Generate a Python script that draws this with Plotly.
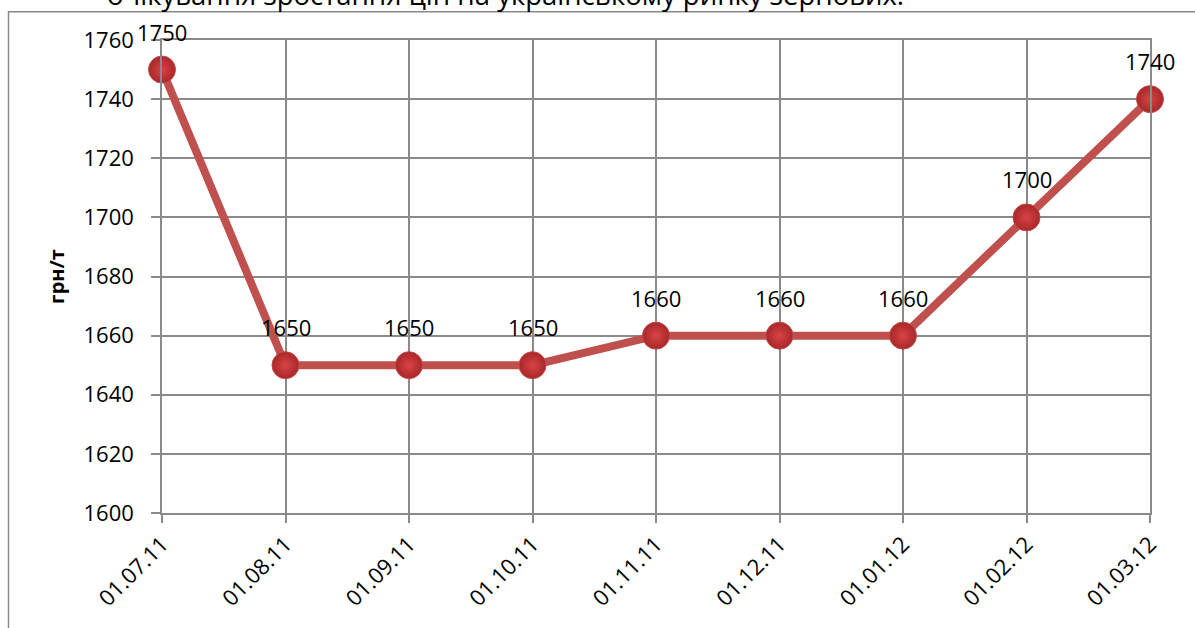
import plotly.graph_objects as go

dates = ["01.07.11", "01.08.11", "01.09.11", "01.10.11", "01.11.11",
         "01.12.11", "01.01.12", "01.02.12", "01.03.12"]
prices = [1750, 1650, 1650, 1650, 1660, 1660, 1660, 1700, 1740]
y_ticks = [1600, 1620, 1640, 1660, 1680, 1700, 1720, 1740, 1760]
y_title = "грн/т"
top_text = "очікування зростання цін на українському ринку зернових."

FONT = "Open Sans"
GRID = "#8a8a8a"
LINE = "#C0504D"

fig = go.Figure()
fig.add_trace(go.Scatter(
    x=list(range(len(dates))), y=prices, mode="lines+markers",
    line=dict(color=LINE, width=8),
    marker=dict(size=27, color="#A8282A",
                gradient=dict(type="radial", color="#D84344"),
                line=dict(color="#C44848", width=1)),
    cliponaxis=False, showlegend=False, hoverinfo="skip",
))

for i, v in enumerate(prices):
    fig.add_annotation(x=i, y=v, xref="x", yref="y", text=str(v),
                       showarrow=False, yshift=38,
                       font=dict(family=FONT, size=22, color="#000000"))

fig.add_annotation(x=(105 - 162) / 988, y=1.052, xref="paper", yref="paper",
                   xanchor="left", yanchor="bottom", text=top_text, showarrow=False,
                   font=dict(family=FONT, size=27.5, color="#000000"))

fig.add_shape(type="rect", xref="paper", yref="paper",
              x0=(8.5 - 162) / 988, x1=1.06, y0=-0.3, y1=(513 - 11.7) / 473,
              line=dict(color=GRID, width=1.5), fillcolor="rgba(0,0,0,0)", layer="below")

fig.update_layout(
    width=1195, height=628,
    margin=dict(l=162, r=45, t=40, b=115),
    paper_bgcolor="white", plot_bgcolor="white",
    font=dict(family=FONT, size=22, color="#000000"),
    xaxis=dict(
        tickmode="array", tickvals=list(range(len(dates))), ticktext=dates,
        range=[0, len(dates) - 1], tickangle=-45,
        showgrid=True, gridcolor=GRID, gridwidth=1.5,
        showline=True, linecolor=GRID, linewidth=1.5, mirror=True,
        ticks="outside", ticklen=8, tickcolor=GRID, tickwidth=1.5,
        tickfont=dict(family=FONT, size=22, color="#000000"),
        zeroline=False,
    ),
    yaxis=dict(
        tickmode="array", tickvals=y_ticks, ticktext=[str(t) for t in y_ticks],
        range=[1600, 1760],
        showgrid=True, gridcolor=GRID, gridwidth=1.5,
        showline=True, linecolor=GRID, linewidth=1.5, mirror=True,
        ticks="outside", ticklen=9, tickcolor=GRID, tickwidth=1.5,
        tickfont=dict(family=FONT, size=22, color="#000000"),
        ticklabelstandoff=13,
        title=dict(text="<b>" + y_title + "</b>", font=dict(family=FONT, size=20, color="#000000"),
                   standoff=14),
        zeroline=False,
    ),
)

fig.write_html("out.html", config={"displayModeBar": False},
               post_script="document.body.style.margin='0';document.body.style.overflow='hidden';")
